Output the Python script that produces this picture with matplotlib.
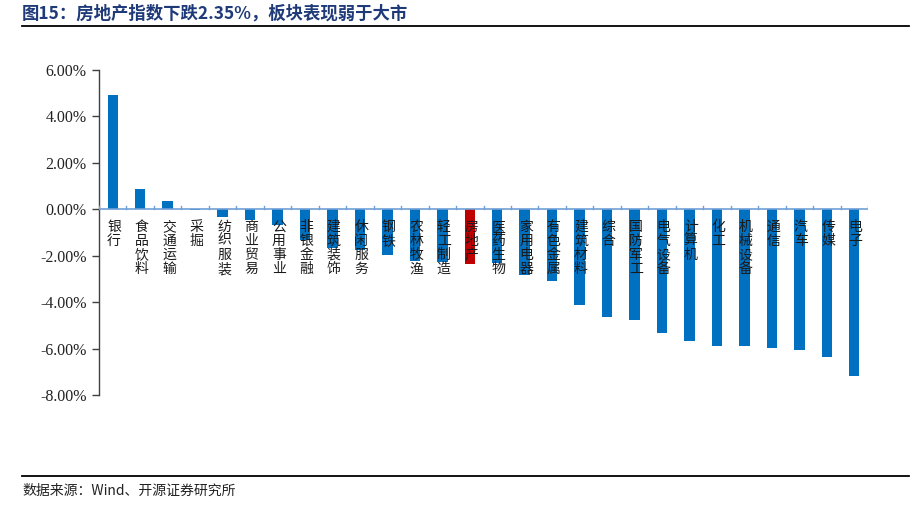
import matplotlib
matplotlib.use("Agg")
import matplotlib.pyplot as plt
from matplotlib.lines import Line2D
from matplotlib.ticker import FuncFormatter
import matplotlib.transforms as mtransforms

plt.rcParams['font.family'] = ['Noto Sans CJK SC', 'DejaVu Sans']

categories = ["银行", "食品饮料", "交通运输", "采掘", "纺织服装", "商业贸易", "公用事业",
              "非银金融", "建筑装饰", "休闲服务", "钢铁", "农林牧渔", "轻工制造", "房地产",
              "医药生物", "家用电器", "有色金属", "建筑材料", "综合", "国防军工", "电气设备",
              "计算机", "化工", "机械设备", "通信", "汽车", "传媒", "电子"]
values = [4.93, 0.87, 0.36, -0.02, -0.33, -0.45, -0.66,
          -1.34, -1.67, -1.75, -1.99, -2.22, -2.28, -2.35,
          -2.30, -2.81, -3.07, -4.14, -4.62, -4.76, -5.35,
          -5.66, -5.87, -5.90, -5.97, -6.05, -6.36, -7.19]
highlight = "房地产"
yticks = [6, 4, 2, 0, -2, -4, -6, -8]

title = "图15：房地产指数下跌2.35%，板块表现弱于大市"
source = "数据来源：Wind、开源证券研究所"

W, H = 919, 507
fig = plt.figure(figsize=(W / 100, H / 100), dpi=100)
ax = fig.add_axes([99 / W, 1 - 395 / H, (868 - 99) / W, (395 - 70) / H])

n = len(categories)
xs = list(range(n))
colors = ["#C00000" if c == highlight else "#0070C0" for c in categories]
ax.bar(xs, values, width=0.38, color=colors, zorder=2)

ax.set_xlim(-0.5, n - 0.5)
ax.set_ylim(-8, 6)
ax.set_yticks(yticks)
ax.yaxis.set_major_formatter(FuncFormatter(lambda v, p: f"{v:.2f}%"))
for lab in ax.get_yticklabels():
    lab.set_fontfamily(['Liberation Serif'])
    lab.set_fontsize(11.5)
    lab.set_color('#222222')
ax.tick_params(axis='y', direction='out', length=5, width=1, color='#404040', pad=4)
ax.set_xticks([])

for s in ['top', 'right', 'bottom']:
    ax.spines[s].set_visible(False)
ax.spines['left'].set_color('#404040')
ax.spines['left'].set_linewidth(1.0)

# zero axis line with upward ticks at category boundaries
ax.axhline(0, color='#6FA0D8', lw=1.2, zorder=3)
trans_x = mtransforms.blended_transform_factory(ax.transData, ax.transData)
for b in range(n + 1):
    xb = b - 0.5
    ax.add_line(Line2D([xb, xb], [0, 0.15], color='#6FA0D8', lw=1.0, zorder=3))

# vertical stacked category labels
for i, c in enumerate(categories):
    for k, ch in enumerate(c):
        tr = mtransforms.offset_copy(ax.transData, fig=fig, x=1, y=-(12.5 + 10.2 * k), units='points')
        ax.text(i, 0, ch, transform=tr, ha='center', va='center', fontsize=10,
                color='#1a1a1a', zorder=4, family=['Noto Sans CJK SC', 'DejaVu Sans'])

# title and rules
fig.text(22 / W, 1 - 14 / H, title, ha='left', va='center', fontsize=12.5,
         fontweight='bold', color='#1F3A78')
fig.add_artist(Line2D([22 / W, 909 / W], [1 - 26 / H, 1 - 26 / H], color='black', lw=1.3,
                      transform=fig.transFigure))
fig.add_artist(Line2D([22 / W, 909 / W], [1 - 476 / H, 1 - 476 / H], color='black', lw=1.3,
                      transform=fig.transFigure))
fig.text(22 / W, 1 - 491 / H, source, ha='left', va='center', fontsize=10, color='#222222')

fig.savefig("out.png", dpi=100)
